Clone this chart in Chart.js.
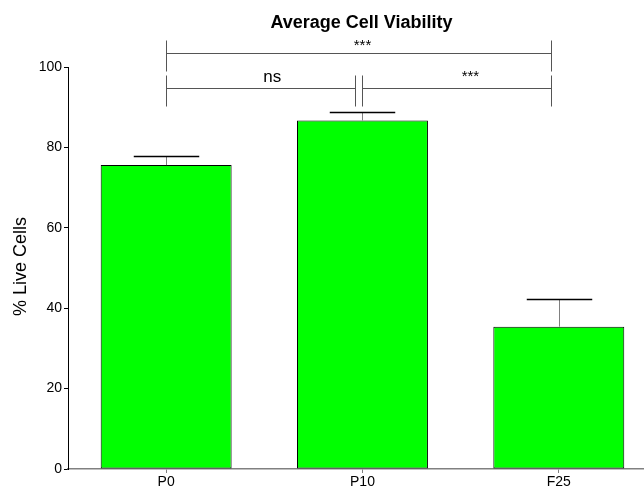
<!DOCTYPE html>
<html>
<head>
<meta charset="utf-8">
<script src="https://cdn.jsdelivr.net/npm/chart.js@4/dist/chart.umd.min.js"></script>
<style>
  html, body { margin: 0; padding: 0; background: #fff; }
</style>
</head>
<body>
<canvas id="chart" width="644" height="490"></canvas>
<script>
// Data ----------
var groups = ["P0", "P10", "F25"];
var means = [75.6, 86.7, 35.4];
var errors = [2.2, 2.0, 7.0];
var yTicks = [0, 20, 40, 60, 80, 100];

// Significance brackets (x in group index units, y in % units)
var bracketFrom = [0, 0, 1.0];
var bracketTo = [1.96, 0.96, 1.96];
var bracketY = [103.6, 94.9, 94.9];
var bracketLabels = ["***", "ns", "***"];
var bracketLabelX = [1.0, 0.54, 1.55];
var bracketLabelY = [105.3, 97.5, 97.5];

var FONT = "'Liberation Sans', Arial, sans-serif";
Chart.defaults.font.family = FONT;
Chart.defaults.color = "#000";

// Error bars, brackets, title and y title ----------
var extras = {
  id: "extras",
  afterDatasetsDraw: function (chart) {
    var ctx = chart.ctx;
    var xs = chart.scales.x, ys = chart.scales.y;
    var meta = chart.getDatasetMeta(0);
    ctx.save();
    for (var i = 0; i < means.length; i++) {
      var x = Math.round(xs.getPixelForValue(i)) + 0.5;
      var yBar = ys.getPixelForValue(means[i]);
      var yErr = Math.round(ys.getPixelForValue(means[i] + errors[i])) + 0.5;
      var half = meta.data[i].width / 4;
      ctx.strokeStyle = "#808080";
      ctx.lineWidth = 1;
      ctx.beginPath();
      ctx.moveTo(x, yBar);
      ctx.lineTo(x, yErr);
      ctx.stroke();
      ctx.strokeStyle = "#000";
      ctx.lineWidth = 1.5;
      ctx.beginPath();
      ctx.moveTo(x - half, yErr);
      ctx.lineTo(x + half, yErr);
      ctx.stroke();
    }
    ctx.restore();
  },
  afterDraw: function (chart) {
    var ctx = chart.ctx;
    var xs = chart.scales.x, ys = chart.scales.y;
    ctx.save();
    for (var b = 0; b < bracketLabels.length; b++) {
      var x1 = Math.round(xs.getPixelForValue(bracketFrom[b])) + 0.5;
      var x2 = Math.round(xs.getPixelForValue(bracketTo[b])) + 0.5;
      var y = Math.round(ys.getPixelForValue(bracketY[b])) + 0.5;
      ctx.strokeStyle = "#555";
      ctx.lineWidth = 1;
      ctx.beginPath();
      ctx.moveTo(x1, y); ctx.lineTo(x2, y);
      ctx.moveTo(x1, y - 13); ctx.lineTo(x1, y + 18);
      ctx.moveTo(x2, y - 13); ctx.lineTo(x2, y + 18);
      ctx.stroke();
      ctx.fillStyle = "#000";
      ctx.textAlign = "center";
      ctx.textBaseline = "middle";
      ctx.font = (bracketLabels[b] === "ns" ? "17px " : "15px ") + FONT;
      ctx.fillText(bracketLabels[b], xs.getPixelForValue(bracketLabelX[b]), ys.getPixelForValue(bracketLabelY[b]));
    }

    // title
    ctx.font = "bold 18px " + FONT;
    ctx.textAlign = "center";
    ctx.textBaseline = "alphabetic";
    ctx.fillText("Average Cell Viability", 361.5, 28);

    // y axis title
    ctx.translate(21, 266.5);
    ctx.rotate(-Math.PI / 2);
    ctx.font = "18px " + FONT;
    ctx.textBaseline = "middle";
    ctx.fillText("% Live Cells", 0, 0);
    ctx.restore();
  }
};

// Chart ----------
var ctx = document.getElementById("chart").getContext("2d");

var myChart = new Chart(ctx, {
  type: "bar",
  data: {
    datasets: [{
      data: means.map(function (m, i) { return { x: i, y: m }; }),
      backgroundColor: "#00ff00",
      borderColor: "#000",
      borderWidth: 1,
      borderSkipped: false,
      categoryPercentage: 1,
      barPercentage: 0.667
    }]
  },
  options: {
    responsive: false,
    animation: false,
    devicePixelRatio: 1,
    layout: { padding: { top: 67, right: 0, left: 0, bottom: 0 } },
    plugins: { legend: { display: false }, tooltip: { enabled: false } },
    scales: {
      x: {
        type: "linear",
        offset: false,
        min: -0.5,
        max: 2.434,
        afterBuildTicks: function (s) {
          s.ticks = groups.map(function (g, i) { return { value: i }; });
        },
        afterFit: function (s) { s.height = 21; },
        ticks: {
          callback: function (v) { return groups[v]; },
          autoSkip: false,
          maxRotation: 0,
          padding: 1,
          font: { size: 14 }
        },
        grid: { offset: false, drawOnChartArea: false, tickLength: 4, color: "#808080" },
        border: { color: "#808080", width: 1.5 }
      },
      y: {
        min: 0,
        max: 100,
        afterBuildTicks: function (s) {
          s.ticks = yTicks.map(function (v) { return { value: v }; });
        },
        afterFit: function (s) { s.width = 68; },
        ticks: { padding: 2, font: { size: 14 } },
        grid: { drawOnChartArea: false, tickLength: 4, color: "#000" },
        border: { color: "#000", width: 1 }
      }
    }
  },
  plugins: [extras]
});
</script>
</body>
</html>
